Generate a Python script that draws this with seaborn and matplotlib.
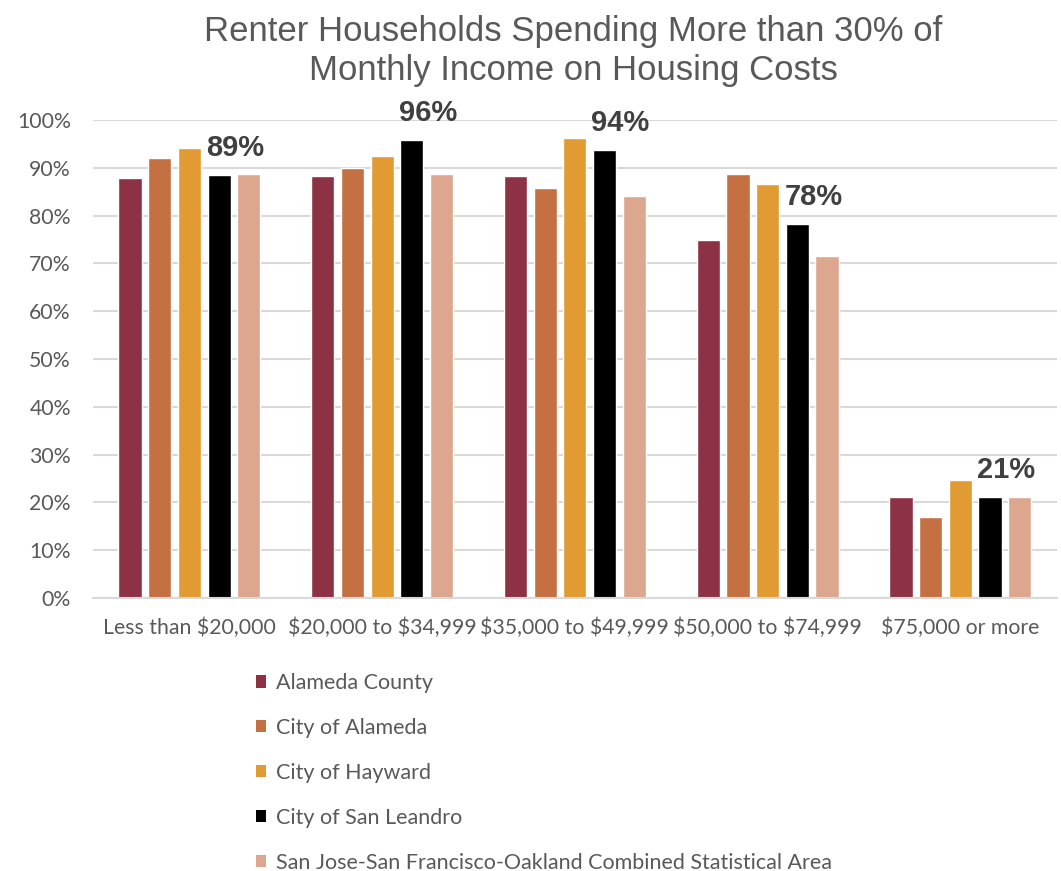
import matplotlib
matplotlib.use("Agg")
import matplotlib.pyplot as plt
import seaborn as sns
import pandas as pd
from matplotlib.ticker import PercentFormatter
from matplotlib.patches import Patch

# Income brackets on the x axis
brackets = ["Less than $20,000", "$20,000 to $34,999", "$35,000 to $49,999",
            "$50,000 to $74,999", "$75,000 or more"]

# Share of renter households that are cost burdened (%)
alameda_county = [87.9, 88.3, 88.3, 74.9, 21.2]
city_of_alameda = [92.1, 90.0, 85.8, 88.8, 17.0]
city_of_hayward = [94.2, 92.5, 96.3, 86.7, 24.6]
city_of_san_leandro = [88.6, 95.9, 93.8, 78.3, 21.2]
csa = [88.8, 88.8, 84.2, 71.6, 21.2]

series_names = ["Alameda County", "City of Alameda", "City of Hayward",
                "City of San Leandro",
                "San Jose-San Francisco-Oakland Combined Statistical Area"]
series_values = [alameda_county, city_of_alameda, city_of_hayward,
                 city_of_san_leandro, csa]
colors = ["#8C3244", "#C47042", "#E29A32", "#000000", "#DCA78E"]

rows = []
for name, vals in zip(series_names, series_values):
    for b, v in zip(brackets, vals):
        rows.append({"bracket": b, "area": name, "pct": v})
df = pd.DataFrame(rows)

sns.set_theme(style="white")
plt.rcParams["font.family"] = ["Lato", "DejaVu Sans"]
plt.rcParams["text.parse_math"] = False

fig = plt.figure(figsize=(10.61, 8.71), dpi=100)
ax = fig.add_axes([0.0877, 0.3134, 0.9083, 0.5488])

sns.barplot(data=df, x="bracket", y="pct", hue="area", order=brackets,
            hue_order=series_names, palette=colors, width=0.77, gap=0.22,
            saturation=1, ax=ax, legend=False)

ax.set_ylim(0, 100)
ax.set_xlim(-0.5, len(brackets) - 0.5)
ax.set_yticks(range(0, 101, 10))
ax.yaxis.set_major_formatter(PercentFormatter(decimals=0))
ax.grid(axis="y", color="#D9D9D9", linewidth=1.5)
ax.set_axisbelow(True)
for side in ["top", "right", "left"]:
    ax.spines[side].set_visible(False)
ax.spines["bottom"].set_color("#D9D9D9")
ax.spines["bottom"].set_linewidth(1.5)
ax.set_xlabel("")
ax.set_ylabel("")
ax.tick_params(axis="both", length=0, labelcolor="#595959")
ax.tick_params(axis="x", pad=14, labelsize=15.3)
ax.tick_params(axis="y", pad=16, labelsize=15.3)

# Value labels for San Leandro bars
for bar, v in zip(ax.containers[3], city_of_san_leandro):
    ax.annotate(f"{round(v)}%", (bar.get_x() + bar.get_width() / 2, v),
                xytext=(16, 13), textcoords="offset pixels",
                ha="center", va="bottom", fontsize=21, fontweight="bold",
                color="#404040", family=["Liberation Sans", "DejaVu Sans"])

fig.suptitle("Renter Households Spending More than 30% of\nMonthly Income on Housing Costs",
             x=0.54, y=0.983, fontsize=25, color="#595959",
             family=["Liberation Sans", "DejaVu Sans"], linespacing=1.22)

handles = [Patch(facecolor=c, edgecolor="none") for c in colors]
fig.legend(handles, series_names, loc="upper left",
           bbox_to_anchor=(0.241, 0.2273), frameon=False, fontsize=15.5,
           labelcolor="#595959", handlelength=0.5, handleheight=0.5,
           handletextpad=0.45, labelspacing=1.16, borderpad=0, borderaxespad=0)

fig.savefig("out.png", dpi=100)
